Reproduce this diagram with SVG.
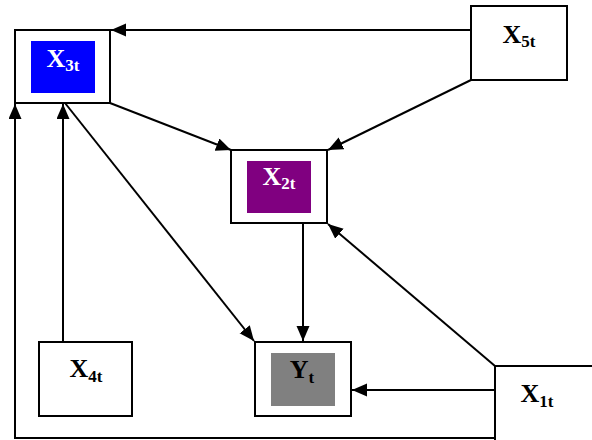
<svg xmlns="http://www.w3.org/2000/svg" width="592" height="440" viewBox="0 0 592 440">
<style>
.box{fill:#fff;stroke:#000;stroke-width:2}
.lbl{font-family:"Liberation Serif","Times New Roman",serif;font-weight:bold;font-size:26px;text-anchor:middle}
.sub{font-size:17px}
.edge{fill:none;stroke:#000;stroke-width:2}
</style>
<defs>
<marker id="ah" markerUnits="userSpaceOnUse" markerWidth="16" markerHeight="14" refX="15" refY="6.5" orient="auto">
<path d="M0,0 L15,6.5 L0,13 z" fill="#000"/>
</marker>
</defs>
<g id="connectors">
<line class="edge" x1="471" y1="30" x2="111" y2="30" marker-end="url(#ah)"/>
<line class="edge" x1="471" y1="80" x2="328" y2="150" marker-end="url(#ah)"/>
<line class="edge" x1="110" y1="103" x2="231" y2="150" marker-end="url(#ah)"/>
<line class="edge" x1="65" y1="103" x2="254" y2="341" marker-end="url(#ah)"/>
<line class="edge" x1="63" y1="342" x2="63" y2="104" marker-end="url(#ah)"/>
<line class="edge" x1="303" y1="223" x2="303" y2="341" marker-end="url(#ah)"/>
<line class="edge" x1="495" y1="366" x2="328" y2="224" marker-end="url(#ah)"/>
<line class="edge" x1="495" y1="390" x2="352" y2="390" marker-end="url(#ah)"/>
<polyline class="edge" points="495,438 15,438 15,104" marker-end="url(#ah)"/>
</g>
<g id="X3t">
<rect class="box" x="15" y="30" width="95" height="73"/>
<rect x="31" y="41" width="64" height="52" fill="#0000ff"/>
<text class="lbl" x="63" y="67" fill="#fff">X<tspan class="sub" dy="4">3t</tspan></text>
</g>
<g id="X2t">
<rect class="box" x="231" y="150" width="96" height="73"/>
<rect x="247" y="161" width="64" height="52" fill="#800080"/>
<text class="lbl" x="279" y="185" fill="#fff">X<tspan class="sub" dy="4">2t</tspan></text>
</g>
<g id="Yt">
<rect class="box" x="255" y="342" width="96" height="74"/>
<rect x="271" y="353" width="64" height="53" fill="#808080"/>
<text class="lbl" x="302" y="378" fill="#000">Y<tspan class="sub" dy="5">t</tspan></text>
</g>
<g id="X5t">
<rect class="box" x="471" y="6" width="96" height="74"/>
<text class="lbl" x="519" y="43">X<tspan class="sub" dy="4">5t</tspan></text>
</g>
<g id="X1t">
<rect class="box" x="495" y="366" width="98" height="76"/>
<text class="lbl" x="537" y="402">X<tspan class="sub" dy="5">1t</tspan></text>
</g>
<g id="X4t">
<rect class="box" x="39" y="342" width="93" height="74"/>
<text class="lbl" x="86" y="377">X<tspan class="sub" dy="5">4t</tspan></text>
</g>
</svg>
